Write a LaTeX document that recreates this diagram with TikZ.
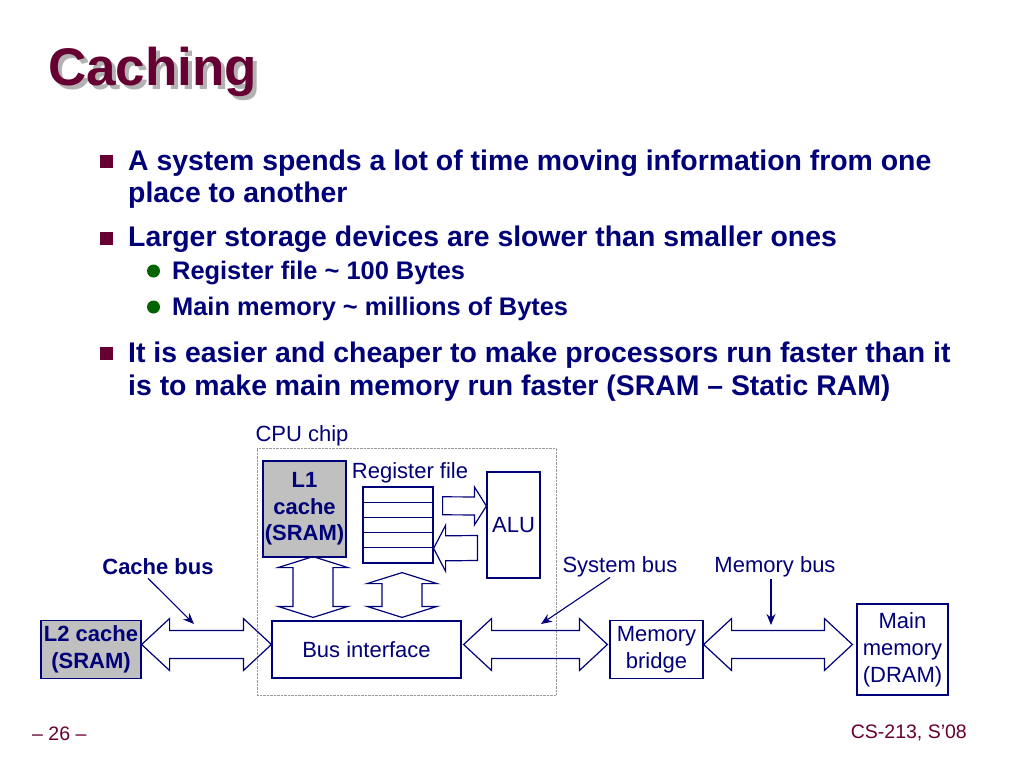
\documentclass[tikz,border=0pt]{standalone}
\usepackage{fontspec}
\setmainfont{Liberation Sans}
\usepackage{xcolor}
\usepackage{tikz}
\usetikzlibrary{arrows, arrows.meta, positioning, calc}
\definecolor{slidenavy}{RGB}{0,0,120}
\definecolor{slidemaroon}{RGB}{102,0,51}
\definecolor{slidegreen}{RGB}{0,100,0}
\definecolor{cachegray}{RGB}{192,192,192}
\tikzstyle{box} = [rectangle, draw=slidenavy, line width=1.2pt, inner sep=0pt, text=slidenavy, align=center, font=\fontsize{22}{27}\selectfont]
\tikzstyle{cache} = [box, fill=cachegray, font=\fontsize{22}{26.5}\selectfont\bfseries]
\tikzstyle{row} = [rectangle, draw=slidenavy, line width=1.2pt, minimum width=70pt, minimum height=15.2pt, inner sep=0pt]
\tikzstyle{chip} = [rectangle, draw=gray!80, densely dotted, thin, inner sep=0pt]
\tikzstyle{tag} = [text=slidenavy, inner sep=0pt, font=\fontsize{22}{27}\selectfont]
\tikzstyle{bus} = [draw=slidenavy, line width=1.2pt, line join=miter]
\tikzstyle{pointer} = [draw=slidenavy, line width=1.1pt, -{Stealth[length=11pt, width=9pt]}]
\tikzstyle{title} = [inner sep=0pt, anchor=base west, font=\fontsize{53}{60}\selectfont\bfseries]
\tikzstyle{main} = [inner sep=0pt, anchor=base west, text=slidenavy, font=\fontsize{28.4}{33}\selectfont\bfseries]
\tikzstyle{sub} = [main, font=\fontsize{25.4}{30}\selectfont\bfseries]
\tikzstyle{square} = [rectangle, fill=slidemaroon, minimum size=13pt, inner sep=0pt]
\tikzstyle{dot} = [circle, fill=slidegreen, minimum size=13pt, inner sep=0pt]
\tikzstyle{footer} = [inner sep=0pt, text=slidemaroon, font=\fontsize{19.5}{23}\selectfont]
% block arrows
\newcommand{\hbus}[2]{% both heads, left tip #1, right tip #2
  \draw[bus] let \p1=(#1), \p2=(#2) in (\p1) -- (\x1+28pt,\y1+26pt) -- (\x1+28pt,\y1+14pt) -- (\x2-28pt,\y2+14pt) -- (\x2-28pt,\y2+26pt) -- (\p2)
    -- (\x2-28pt,\y2-26pt) -- (\x2-28pt,\y2-14pt) -- (\x1+28pt,\y1-14pt) -- (\x1+28pt,\y1-26pt) -- cycle;}
\newcommand{\vbus}[2]{% both heads, top tip #1, bottom tip #2
  \draw[bus] let \p1=(#1), \p2=(#2) in (\p1) -- (\x1+35pt,\y1-11pt) -- (\x1+20pt,\y1-11pt) -- (\x2+20pt,\y2+11pt) -- (\x2+35pt,\y2+11pt) -- (\p2)
    -- (\x2-35pt,\y2+11pt) -- (\x2-20pt,\y2+11pt) -- (\x1-20pt,\y1-11pt) -- (\x1-35pt,\y1-11pt) -- cycle;}
\newcommand{\sbus}[4]{% one head, tail #1, tip #2, half widths #3 #4
  \draw[bus] let \p1=(#1), \p2=(#2), \p3=($(\p2)!12pt!(\p1)$) in (\x1,\y1+#3) -- (\x3,\y3+#3) -- (\x3,\y3+#4) -- (\p2)
    -- (\x3,\y3-#4) -- (\x3,\y3-#3) -- (\x1,\y1-#3) -- cycle;}
\begin{document}
\begin{tikzpicture}[x=1pt, y=-1pt, node distance=100pt]
        \fill[white] (0,0) rectangle (1024,768);
        \useasboundingbox (0,0) rectangle (1024,768);

        % Title
        \node (title_shadow) [title, text=gray!60] at (52,89) {Caching};
        \node (title) [title, text=slidemaroon] at (48,85) {Caching};

        % Bullets
        \node (sq_1) [square] at (106.5,161.5) {};
        \node (txt_1a) [main] at (128,170) {A system spends a lot of time moving information from one};
        \node (txt_1b) [main] at (128,202) {place to another};
        \node (sq_2) [square] at (106.5,238) {};
        \node (txt_2) [main] at (128,246) {Larger storage devices are slower than smaller ones};
        \node (dot_1) [dot] at (153.5,271) {};
        \node (txt_2a) [sub] at (172,279) {Register file \textasciitilde{} 100 Bytes};
        \node (dot_2) [dot] at (153.5,307) {};
        \node (txt_2b) [sub] at (172,315) {Main memory \textasciitilde{} millions of Bytes};
        \node (sq_3) [square] at (106.5,353.5) {};
        \node (txt_3a) [main] at (128,362) {It is easier and cheaper to make processors run faster than it};
        \node (txt_3b) [main] at (128,395) {is to make main memory run faster (SRAM -- Static RAM)};

        % CPU chip
        \node (cpu) [chip, minimum width=299pt, minimum height=247pt] at (406.5,571.5) {};
        \node (cpu_lbl) [tag] at (302,436) {CPU chip};
        \node (bus_if) [box, minimum width=189pt, minimum height=57pt] at (366.5,649.5) {Bus interface};
        \node (l1) [cache, minimum width=83pt, minimum height=96pt, above of=bus_if, xshift=-62pt, yshift=40.5pt] {L1\\cache\\(SRAM)};
        \node (reg_1) [row, above of=bus_if, xshift=31.5pt, yshift=54.9pt] {};
        \node (reg_2) [row, node distance=15.2pt, below of=reg_1] {};
        \node (reg_3) [row, node distance=15.2pt, below of=reg_2] {};
        \node (reg_4) [row, node distance=15.2pt, below of=reg_3] {};
        \node (reg_5) [row, node distance=15.2pt, below of=reg_4] {};
        \node (reg_lbl) [tag] at (410,473) {Register file};
        \node (alu) [box, minimum width=53pt, minimum height=106pt, right of=reg_3, xshift=15.5pt] {ALU};

        % Outside the chip
        \node (l2) [cache, minimum width=100pt, minimum height=58pt, left of=bus_if, xshift=-175.5pt] {L2 cache\\(SRAM)};
        \node (bridge) [box, minimum width=93pt, minimum height=58pt, right of=bus_if, xshift=190pt] {Memory\\bridge};
        \node (main_mem) [box, minimum width=91pt, minimum height=91pt, right of=bridge, xshift=146pt] {Main\\memory\\(DRAM)};

        % Buses
        \hbus{[yshift=5pt]l2.east}{[yshift=5pt]bus_if.west}
        \hbus{[xshift=2pt,yshift=5pt]bus_if.east}{[xshift=-2pt,yshift=5pt]bridge.west}
        \hbus{[yshift=5pt]bridge.east}{[xshift=-4pt,yshift=5pt]main_mem.west}
        \vbus{[xshift=8.5pt,yshift=1pt]l1.south}{[xshift=8.5pt,yshift=3pt]l1.south |- bus_if.north}
        \vbus{[xshift=4pt,yshift=-9pt]reg_5.south}{[xshift=4pt,yshift=3pt]reg_5.south |- bus_if.north}
        \sbus{[xshift=9pt,yshift=4pt]reg_2.east}{[yshift=19pt]alu.west}{9pt}{19pt}
        \sbus{[xshift=-9pt,yshift=-23pt]alu.west}{reg_4.south east}{12.5pt}{23pt}

        % Bus labels
        \node (cache_lbl) [tag, font=\fontsize{22}{27}\selectfont\bfseries] at (158,567) {Cache bus};
        \node (sys_lbl) [tag] at (620,567) {System bus};
        \node (mem_lbl) [tag] at (775,567) {Memory bus};
        \coordinate (cache_tip) at (194,624);
        \coordinate (sys_tip) at (541,624);
        \coordinate (mem_tip) at (771,625);
        \draw [pointer] ([xshift=-10pt,yshift=-3pt]cache_lbl.south) -- (cache_tip);
        \draw [pointer] ([xshift=-10pt]sys_lbl.south) -- (sys_tip);
        \draw [pointer] ([xshift=-4pt,yshift=-2pt]mem_lbl.south) -- (mem_tip);

        % Footer
        \node (page_no) [footer, anchor=base west] at (32,740) {-- 26 --};
        \node (course) [footer, anchor=base east] at (967,738) {CS-213, S’08};
\end{tikzpicture}
\end{document}
